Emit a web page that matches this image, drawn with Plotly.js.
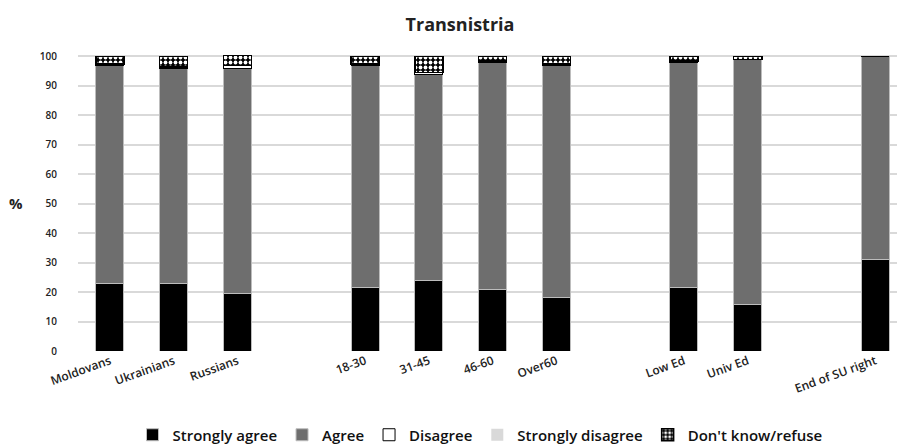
<!DOCTYPE html>
<html><head><meta charset="utf-8">
<script src="https://cdn.plot.ly/plotly-3.0.1.min.js"></script>
<style>body{margin:0;background:#fff}#c{width:897px;height:445px}</style>
</head><body><div id="c"></div>
<script>
const categories = ["Moldovans","Ukrainians","Russians"," ","18-30","31-45","46-60","Over60","  ","Low Ed","Univ Ed","   ","End of SU right"];
const stronglyAgree    = [23, 23, 19.5, null, 21.7, 24, 21, 18, null, 21.7, 15.8, null, 31];
const agree            = [74, 73, 76.5, null, 75.3, 70, 77, 79, null, 76.3, 83.2, null, 69];
const disagree         = [0.5, 0.5, 1, null, 0.5, 0.5, 0.5, 0.5, null, 0.5, 0, null, 0];
const stronglyDisagree = [0, 0, 0, null, 0, 0, 0, 0, null, 0, 0, null, 0];
const dontKnow         = [2.5, 3.5, 3.5, null, 2.5, 5.5, 1.5, 2.5, null, 1.5, 1, null, 0];
const yTicks = [0,10,20,30,40,50,60,70,80,90,100];

const font = {family: "Open Sans, Liberation Sans, sans-serif", color: "#222"};
const traces = [
  {name: "Strongly agree", y: stronglyAgree, marker: {color: "#000000", line: {color: "#bdbdbd", width: 1}}},
  {name: "Agree", y: agree, marker: {color: "#6e6e6e", line: {color: "#bdbdbd", width: 1}}},
  {name: "Disagree", y: disagree, marker: {color: "#ffffff", line: {color: "#000000", width: 1}}},
  {name: "Strongly disagree", y: stronglyDisagree, marker: {color: "#d9d9d9", line: {color: "#d9d9d9", width: 0}}},
  {name: "Don't know/refuse", y: dontKnow, marker: {color: "#000000", line: {color: "#000000", width: 1.5},
     pattern: {shape: ".", bgcolor: "#000000", fgcolor: "#ffffff", size: 5, solidity: 0.45, fillmode: "replace"}}}
].map(t => Object.assign({type: "bar", x: categories, hoverinfo: "none"}, t));

const layout = {
  width: 897, height: 445,
  margin: {l: 78, r: 0, t: 55, b: 94},
  barmode: "stack", bargap: 0.56,
  paper_bgcolor: "#fff", plot_bgcolor: "#fff",
  font: font,
  title: {text: "<b>Transnistria</b>", x: 460/897, xanchor: "center", y: 0.945, yanchor: "middle", font: {family: font.family, size: 18, color: "#222"}},
  xaxis: {type: "category", range: [-0.5, 12.34], tickangle: -20, showgrid: false, showline: false, ticks: "", automargin: false,
          tickfont: {size: 12, color: "#222", weight: 600}},
  yaxis: {range: [0, 100.5], tickvals: yTicks, showgrid: true, gridcolor: "#d9d9d9", gridwidth: 2,
          zeroline: false, showline: false, ticks: "", automargin: false, tickfont: {size: 10, color: "#222", weight: 600}, ticklabelstandoff: 20},
  showlegend: true,
  legend: {orientation: "h", x: 480/897, xref: "container", xanchor: "center", y: 0.0225, yref: "container", yanchor: "middle", traceorder: "normal",
           font: {size: 15, color: "#111", weight: 600}, itemwidth: 30, tracegroupgap: 0},
  annotations: [{text: "<b>%</b>", xref: "paper", yref: "paper", x: (25-78)/819, y: 0.5, xanchor: "right", yanchor: "middle",
                 showarrow: false, font: {size: 15, color: "#222"}}]
};
Plotly.newPlot("c", traces, layout, {displayModeBar: false, staticPlot: true});
</script></body></html>
